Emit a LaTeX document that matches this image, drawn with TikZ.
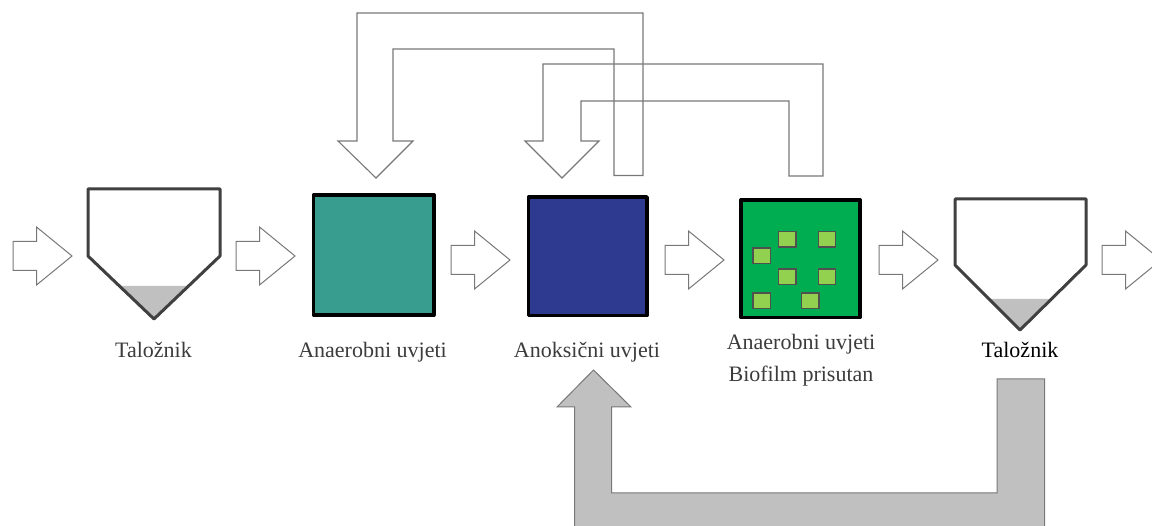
\documentclass[tikz,border=0pt]{standalone}
\usepackage{fontspec}
\setmainfont{Liberation Serif}
\definecolor{tealbox}{RGB}{56,157,142}
\definecolor{navybox}{RGB}{46,58,143}
\definecolor{greenbox}{RGB}{0,173,80}
\definecolor{chip}{RGB}{146,208,80}
\definecolor{chipline}{RGB}{80,80,80}
\definecolor{outl}{RGB}{120,120,120}
\definecolor{sludge}{RGB}{192,192,192}
\definecolor{tank}{RGB}{64,64,64}
\definecolor{txt}{RGB}{60,60,60}
\tikzset{
  arrowline/.style={draw=outl, line width=1pt, fill=white, line join=miter},
  uline/.style={draw=outl, line width=1.1pt, line join=miter},
  tankline/.style={draw=tank, line width=3pt, line join=round},
  reactor/.style={draw=black, line width=3.5pt, inner sep=0pt, line join=round},
  chipbox/.style={draw=chipline, line width=1.4pt, fill=chip, minimum width=17.5pt, minimum height=15.5pt, inner sep=0pt},
  lbl/.style={text=txt, font=\fontsize{22}{26}\selectfont, inner sep=0pt, anchor=base},
  harrow/.pic={\path[arrowline] (0,-14.5) -- (23.5,-14.5) -- (23.5,-29) -- (59,0) -- (23.5,29) -- (23.5,14.5) -- (0,14.5) -- cycle;}
}
\begin{document}
\begin{tikzpicture}[x=1pt,y=-1pt]
\useasboundingbox (0,0) rectangle (1152,526);
\clip (0,0) rectangle (1152,526);
\fill[white] (0,0) rectangle (1152,526);

% recycle U arrows (top)
\path[uline] (338,141) -- (357,141) -- (357,13) -- (643,13) -- (643,175.5) -- (614,175.5) -- (614,49) -- (393,49) -- (393,141) -- (413,141) -- (376,178) -- cycle;
\path[uline] (525,141) -- (543,141) -- (543,64) -- (823,64) -- (823,176) -- (789,176) -- (789,101) -- (581,101) -- (581,141) -- (599,141) -- (562,178) -- cycle;

% horizontal flow arrows
\pic at (13,256) {harrow};
\pic at (236,256) {harrow};
\pic at (451,260) {harrow};
\pic at (665,260) {harrow};
\pic at (879,260) {harrow};
\pic at (1102,260) {harrow};

% settler 1
\fill[sludge] (119,286) -- (189,286) -- (154,319) -- cycle;
\path[tankline] (88,189) -- (220,189) -- (220,256) -- (154,319) -- (88,256) -- cycle;
\coordinate (set1) at (154,255);
% settler 2
\fill[sludge] (988,299) -- (1053,299) -- (1020,330) -- cycle;
\path[tankline] (955,199) -- (1086,199) -- (1086,265) -- (1020,330) -- (955,265) -- cycle;
\coordinate (set2) at (1020,260);

% reactors
\node[reactor, fill=tealbox, minimum width=120.5pt, minimum height=120pt] (anaer) at (373.7,255) {};
\node[reactor, fill=navybox, minimum width=118.5pt, minimum height=118.5pt] (anox) at (587.7,256.2) {};
\node[reactor, fill=greenbox, minimum width=119pt, minimum height=117.5pt] (biofilm) at (800.5,258.8) {};

% biofilm carriers
\node[chipbox] (c1) at (787.2,239.2) {};
\node[chipbox] (c2) at (827,239.2) {};
\node[chipbox] (c3) at (761.8,255.8) {};
\node[chipbox] (c4) at (787.2,276.6) {};
\node[chipbox] (c5) at (827,276.6) {};
\node[chipbox] (c6) at (761.8,300.8) {};
\node[chipbox] (c7) at (810.3,300.8) {};

% labels
\node[lbl] (l1) at (153.5,358) {Taložnik};
\node[lbl] (l2) at (372.5,358) {Anaerobni uvjeti};
\node[lbl] (l3) at (587,358) {Anoksični uvjeti};
\node[lbl] (l4) at (801,350) {Anaerobni uvjeti};
\node[lbl] (l5) at (801,382) {Biofilm prisutan};
\node[lbl, text=black] (l6) at (1020,358) {Taložnik};

% sludge return arrow (bottom)
\path[draw=outl, line width=1pt, fill=sludge, line join=miter]
  (593.5,370) -- (631,407) -- (611.5,407) -- (611.5,493) -- (997,493) -- (997,379) -- (1044.5,379) -- (1044.5,560) -- (574.5,560) -- (574.5,407) -- (557,407) -- cycle;
\end{tikzpicture}
\end{document}
